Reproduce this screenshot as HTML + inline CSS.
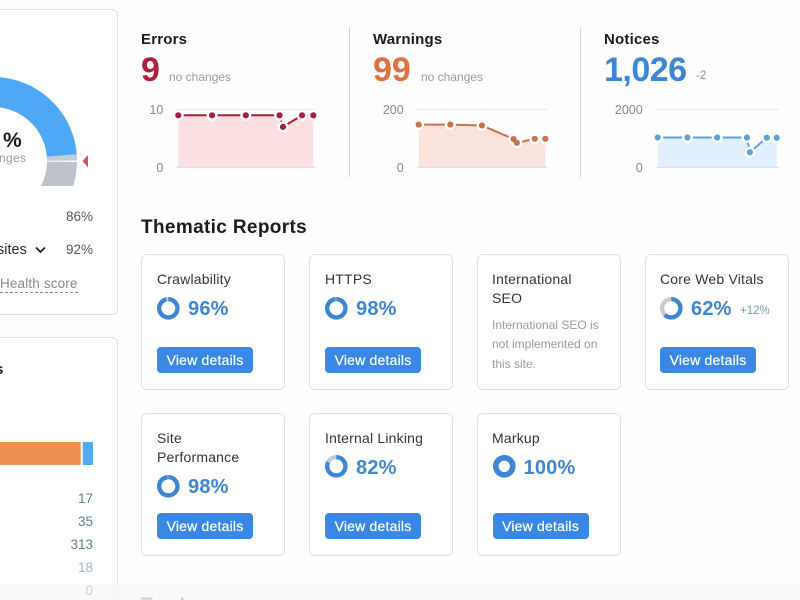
<!DOCTYPE html>
<html lang="en">
<head>
<meta charset="utf-8">
<title>Site Audit Overview</title>
<style>
html,body{margin:0;padding:0;background:#fefefe;}
#page{position:relative;width:800px;height:600px;overflow:hidden;background:#fefefe;font-family:"Liberation Sans",sans-serif;color:#222;filter:blur(.35px);}
.t{position:absolute;white-space:nowrap;line-height:1;}
.card{position:absolute;box-sizing:border-box;width:144px;border:1.5px solid #dedfe1;border-radius:6px;background:#fff;}
.ctitle{font-size:14px;color:#333;letter-spacing:.2px;}
.pct{font-size:20px;font-weight:bold;color:#3f86cf;letter-spacing:.2px;}
.btn{position:absolute;width:96px;height:26px;border:0;padding:0;border-radius:4px;background:#3a87e6;color:#fff;font:14px "Liberation Sans",sans-serif;letter-spacing:.2px;-webkit-text-stroke:.2px #fff;}
.head{font-size:15px;font-weight:bold;color:#1b1b1f;letter-spacing:.2px;}
.big{font-size:34px;font-weight:bold;}
.sub{font-size:12px;color:#9a9a9f;}
.val{font-size:13.5px;width:60px;text-align:right;}
.panel{position:absolute;box-sizing:border-box;left:-20px;width:138px;border:1.5px solid #dedfe1;border-radius:6px;background:#fff;}
.divider{position:absolute;width:1px;top:27px;height:150px;background:#d6d6d8;}
svg{position:absolute;overflow:visible;}
</style>
</head>
<body>
<div id="page">

  <div class="panel" style="top:9px;height:306px"></div>
  <svg id="gauge" style="left:0;top:0" width="100" height="200"></svg>
  <div class="t" style="left:3px;top:130px;font-size:21px;font-weight:bold;color:#1b1b1f">%</div>
  <div class="t" style="left:-1px;top:152px;font-size:12px;color:#9a9a9f;letter-spacing:.3px">nges</div>
  <div class="t val" style="left:33px;top:210px;color:#55585e">86%</div>
  <div class="t" style="left:-3px;top:243px;font-size:14.5px;color:#2a2a2e">sites</div>
  <svg style="left:35px;top:246px" width="11" height="8"><path d="M1 1.5 L5.5 6 L10 1.5" fill="none" stroke="#222" stroke-width="1.8"/></svg>
  <div class="t val" style="left:33px;top:243px;color:#55585e">92%</div>
  <div class="t" style="left:0;top:277px;font-size:13.5px;color:#85878c;letter-spacing:.15px;border-bottom:1px dashed #85878c;padding-bottom:1px">Health score</div>

  <div class="panel" style="top:337px;height:290px"></div>
  <div class="t" style="left:-5px;top:362px;font-size:15px;font-weight:bold;color:#1b1b1f">s</div>
  <svg id="stackbar" style="left:0;top:442px" width="100" height="24"></svg>
  <div class="t val" style="left:33px;top:492px;color:#5b7d99">17</div>
  <div class="t val" style="left:33px;top:515px;color:#5b7d99">35</div>
  <div class="t val" style="left:33px;top:538px;color:#5b7d99">313</div>
  <div class="t val" style="left:33px;top:561px;color:#a3b4c4">18</div>

  <div class="t head" style="left:141px;top:32px">Errors</div>
  <div class="t big" style="left:141px;top:53px;color:#b01f3c">9</div>
  <div class="t sub" style="left:169px;top:71px">no changes</div>
  <svg id="chart-errors" style="left:0;top:0" width="800" height="200"></svg>
  <div class="divider" style="left:349px"></div>

  <div class="t head" style="left:373px;top:32px">Warnings</div>
  <div class="t big" style="left:373px;top:53px;color:#e0703f">99</div>
  <div class="t sub" style="left:421px;top:71px">no changes</div>
  <svg id="chart-warnings" style="left:0;top:0" width="800" height="200"></svg>
  <div class="divider" style="left:580px"></div>

  <div class="t head" style="left:604px;top:32px">Notices</div>
  <div class="t big" style="left:604px;top:53px;color:#3a86d8;letter-spacing:-.5px">1,026</div>
  <div class="t" style="left:696px;top:71px;font-size:11.5px;color:#6a9aa6">-2</div>
  <svg id="chart-notices" style="left:0;top:0" width="800" height="200"></svg>

  <div class="t" style="left:141px;top:218px;font-size:19px;font-weight:bold;color:#1b1b1f;letter-spacing:.35px">Thematic Reports</div>

  <div class="card" style="left:141px;top:254px;height:136px"></div>
  <div class="t ctitle" style="left:157px;top:272px">Crawlability</div>
  <svg class="ring" data-value="96" data-w="4.3" style="left:157px;top:297.4px" width="23" height="23"></svg>
  <div class="t pct" style="left:188px;top:299px">96%</div>
  <button class="btn" style="left:157px;top:347px">View details</button>

  <div class="card" style="left:309px;top:254px;height:136px"></div>
  <div class="t ctitle" style="left:325px;top:272px">HTTPS</div>
  <svg class="ring" data-value="98" data-w="4.3" style="left:325px;top:297.4px" width="23" height="23"></svg>
  <div class="t pct" style="left:356px;top:299px">98%</div>
  <button class="btn" style="left:325px;top:347px">View details</button>

  <div class="card" style="left:476.5px;top:254px;height:136px"></div>
  <div class="t ctitle" style="left:492px;top:272px">International</div>
  <div class="t ctitle" style="left:492px;top:291px">SEO</div>
  <div class="t sub" style="left:492px;top:319px">International SEO is</div>
  <div class="t sub" style="left:492px;top:338px">not implemented on</div>
  <div class="t sub" style="left:492px;top:358px">this site.</div>

  <div class="card" style="left:645px;top:254px;height:136px"></div>
  <div class="t ctitle" style="left:660px;top:272px">Core Web Vitals</div>
  <svg class="ring" data-value="62" data-w="4.3" style="left:660px;top:297.4px" width="23" height="23"></svg>
  <div class="t pct" style="left:691px;top:299px">62%</div>
  <div class="t" style="left:740px;top:306px;font-size:11.5px;color:#6f9a9f">+12%</div>
  <button class="btn" style="left:660px;top:347px">View details</button>

  <div class="card" style="left:141px;top:413px;height:143px"></div>
  <div class="t ctitle" style="left:157px;top:431px">Site</div>
  <div class="t ctitle" style="left:157px;top:450px">Performance</div>
  <svg class="ring" data-value="98" data-w="4.3" style="left:157px;top:475px" width="23" height="23"></svg>
  <div class="t pct" style="left:188px;top:477px">98%</div>
  <button class="btn" style="left:157px;top:513px">View details</button>

  <div class="card" style="left:309px;top:413px;height:143px"></div>
  <div class="t ctitle" style="left:325px;top:431px">Internal Linking</div>
  <svg class="ring" data-value="82" data-w="4.3" style="left:325px;top:455.4px" width="23" height="23"></svg>
  <div class="t pct" style="left:356px;top:458px">82%</div>
  <button class="btn" style="left:325px;top:513px">View details</button>

  <div class="card" style="left:476.5px;top:413px;height:143px"></div>
  <div class="t ctitle" style="left:492px;top:431px">Markup</div>
  <svg class="ring" data-value="100" data-w="5.6" style="left:492.5px;top:455.4px" width="23" height="23"></svg>
  <div class="t pct" style="left:523.5px;top:458px">100%</div>
  <button class="btn" style="left:492.5px;top:513px">View details</button>

  <div style="position:absolute;left:0;top:584px;width:800px;height:16px;background:rgba(248,248,249,.82)"></div>
  <div class="t val" style="left:33px;top:584px;color:#c9d2da">0</div>
  <div class="t" style="left:141px;top:596px;font-size:19px;font-weight:bold;color:#d0d0d2">Top Issues</div>
</div>

<script>
var NS = 'http://www.w3.org/2000/svg';

/* Trend chart data */
var trendDays = [0, 30, 60, 90, 93, 110, 120];
var errorsValues = [9, 9, 9, 9, 7, 9, 9];
var warningsValues = [148, 148, 145, 98, 85, 99, 99];
var noticesValues = [1034, 1034, 1034, 1034, 528, 1026, 1026];
var errorsTicks = [0, 10];
var warningsTicks = [0, 200];
var noticesTicks = [0, 2000];

/* Gauge data */
var gaugeScore = [86];
var gaugeTopTen = [92];

/* Crawled pages stacked bar */
var barSegments = [90, 10];

/* Thematic report ring values are on each ring's data-value */

function el(parent, tag, attrs) {
  var node = document.createElementNS(NS, tag);
  for (var k in attrs) node.setAttribute(k, attrs[k]);
  parent.appendChild(node);
  return node;
}

function drawTrend(id, prefix, days, values, ticks, left, width, stroke, fill) {
  var svg = document.getElementById(id);
  var top = 109.5, bottom = 167.5;
  var maxDay = days[days.length - 1];
  var maxTick = ticks[ticks.length - 1];
  function xScale(d) { return left + d / maxDay * width; }
  function yScale(v) { return bottom - v / maxTick * (bottom - top); }

  ticks.forEach(function (t) {
    var tickLabel = el(svg, 'text', {x: left - 15, y: yScale(t) + 4.5, 'text-anchor': 'end', 'font-size': 12.5, fill: '#85878c', 'font-family': '"Liberation Sans",sans-serif'});
    tickLabel.textContent = t;
    
    
  });

  var topGrid = el(svg, 'line', {x1: left - 2, x2: left + width + 2, y1: yScale(maxTick), y2: yScale(maxTick), stroke: '#e6e7e9', 'stroke-width': 1});
  
  

  var pts = days.map(function (d, i) { return xScale(d) + ',' + yScale(values[i]); });
  var area = el(svg, 'polygon', {points: xScale(days[0]) + ',' + bottom + ' ' + pts.join(' ') + ' ' + xScale(maxDay) + ',' + bottom, fill: fill});
  
  

  var baseline = el(svg, 'line', {x1: left - 2, x2: left + width + 2, y1: bottom, y2: bottom, stroke: '#dde0e6', 'stroke-width': 1.2});
  
  

  var line = el(svg, 'polyline', {points: pts.join(' '), fill: 'none', stroke: stroke, 'stroke-width': 2});
  
  

  days.forEach(function (d, i) {
    el(svg, 'circle', {cx: xScale(d), cy: yScale(values[i]), r: 5.5, fill: '#fff'});
  });
  days.forEach(function (d, i) {
    var dot = el(svg, 'circle', {cx: xScale(d), cy: yScale(values[i]), r: 3.1, fill: stroke});
    
    
  });
}

drawTrend('chart-errors', 'errors', trendDays, errorsValues, errorsTicks, 178.3, 135, '#a3213f', '#fcdfe1');
drawTrend('chart-warnings', 'warnings', trendDays, warningsValues, warningsTicks, 418.7, 126.6, '#c9714c', '#fbe2da');
drawTrend('chart-notices', 'notices', trendDays, noticesValues, noticesTicks, 657.7, 119, '#5da2d5', '#dff0fc');

/* Gauge */
(function () {
  var svg = document.getElementById('gauge');
  var cx = -7, cy = 161, R = 84, r = 54;
  function angle(v) { return 85.5 + (v - 86) * 0.7; }
  function pt(rad, deg) {
    var a = deg * Math.PI / 180;
    return [cx + rad * Math.sin(a), cy - rad * Math.cos(a)];
  }
  function sector(a0, a1) {
    var p0 = pt(R, a0), p1 = pt(R, a1), p2 = pt(r, a1), p3 = pt(r, a0);
    return 'M' + p0 + ' A' + R + ' ' + R + ' 0 0 1 ' + p1 + ' L' + p2 + ' A' + r + ' ' + r + ' 0 0 0 ' + p3 + 'Z';
  }
  var defs = el(svg, 'defs', {});
  var clip = el(defs, 'clipPath', {id: 'gauge-clip'});
  el(clip, 'rect', {x: -100, y: 0, width: 300, height: 186});
  var g = el(svg, 'g', {'clip-path': 'url(#gauge-clip)'});

  var blue = el(g, 'path', {d: sector(-40, angle(gaugeScore[0])), fill: '#4fa8f5'});
  
  

  var light = el(g, 'path', {d: sector(angle(gaugeScore[0]), angle(gaugeTopTen[0])), fill: '#c9ccd2'});
  
  

  var rest = el(g, 'path', {d: sector(angle(gaugeTopTen[0]) + 1, 130), fill: '#bec2ca'});
  
  

  var marker = el(svg, 'polygon', {points: '82.5,161 88,155 88,167.5', fill: '#d1555c'});
  
  
})();

/* Stacked bar */
(function () {
  var svg = document.getElementById('stackbar');
  var right = 93, unit = 10.3 / barSegments[1];
  function xFromRight(v) { return right - v * unit; }
  var blueStart = xFromRight(barSegments[1]);
  var orange = el(svg, 'rect', {x: blueStart - 2 - barSegments[0] * unit, y: 0, width: barSegments[0] * unit, height: 23, fill: '#ee9150'});
  
  
  var blue = el(svg, 'rect', {x: blueStart, y: 0, width: barSegments[1] * unit, height: 23, fill: '#52aaf3'});
  
  
})();

/* Thematic report rings */
Array.prototype.forEach.call(document.querySelectorAll('.ring'), function (svg) {
  var v = parseFloat(svg.getAttribute('data-value'));
  var w = parseFloat(svg.getAttribute('data-w'));
  var r = 11.3 - w / 2;
  var c = 2 * Math.PI * r;
  el(svg, 'circle', {cx: 11.3, cy: 11.3, r: r, fill: 'none', stroke: '#c8cbd0', 'stroke-width': w});
  var arc = el(svg, 'circle', {cx: 11.3, cy: 11.3, r: r, fill: 'none', stroke: '#3d86d6', 'stroke-width': w,
    'stroke-dasharray': (v / 100 * c) + ' ' + c, transform: 'rotate(-90 11.3 11.3)'});
  
  
});
</script>
</body>
</html>
